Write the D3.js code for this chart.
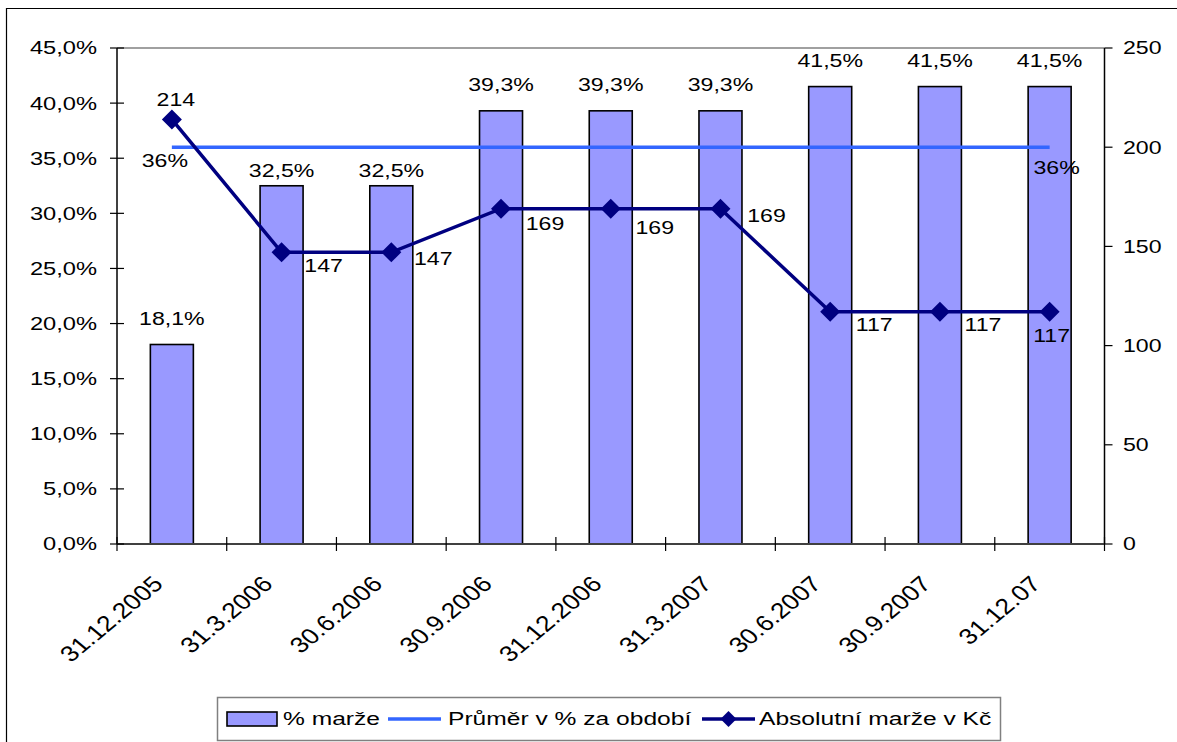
<!DOCTYPE html>
<html>
<head>
<meta charset="utf-8">
<script src="https://d3js.org/d3.v7.min.js"></script>
<style>
body{margin:0;background:#fff}
svg{display:block;font-family:'Liberation Sans',Arial,sans-serif;font-size:18.5px}
</style>
</head>
<body>
<div id="chart"></div>
<script>
// data
var categories = ['31.12.2005','31.3.2006','30.6.2006','30.9.2006','31.12.2006','31.3.2007','30.6.2007','30.9.2007','31.12.07'];
var margePct = [18.1, 32.5, 32.5, 39.3, 39.3, 39.3, 41.5, 41.5, 41.5];
var prumerPct = [36, 36, 36, 36, 36, 36, 36, 36, 36];
var absMarze = [214, 147, 147, 169, 169, 169, 117, 117, 117];
var leftTicks = [0, 5, 10, 15, 20, 25, 30, 35, 40, 45];
var rightTicks = [0, 50, 100, 150, 200, 250];
var legendNames = ['% marže', 'Průměr v % za období', 'Absolutní marže v Kč'];

// label nudges (Excel moved some of them around)
var barLabelDy = [-26, -15, -15, -26, -26, -26, -26, -26, -26];
var absLabelDx = [4, 42, 42, 44, 44, 46, 44, 43, 2];
var absLabelDy = [-20, 13, 6, 15, 19, 7, 13, 13, 24];

var W = 1177, H = 742, SX = 1.25;
var m = {left: 117, right: 1104.5, top: 48, bottom: 544};

var cz = d3.formatLocale({decimal: ',', thousands: ' ', grouping: [3], currency: ['', ' Kč']});
var fmt1 = cz.format('.1f');

var svg = d3.select('#chart').append('svg').attr('width', W).attr('height', H);

var x = d3.scaleBand().domain(categories).range([m.left, m.right]).padding(0);
var yL = d3.scaleLinear().domain([0, 45]).range([m.bottom, m.top]);
var yR = d3.scaleLinear().domain([0, 250]).range([m.bottom, m.top]);
var cx = function(i) { return x(categories[i]) + x.bandwidth() / 2; };

function txt(g, px, py, s, anchor, sx) {
  return g.append('text')
    .attr('transform', 'translate(' + px + ',' + py + ') scale(' + (sx || SX) + ',1)')
    .attr('text-anchor', anchor || 'middle')
    .attr('dy', '0.35em')
    .attr('fill', '#000')
    .text(s);
}

// outer frame
svg.append('path').attr('d', 'M6.5,' + H + 'V8.5H' + W).attr('fill', 'none').attr('stroke', '#000').attr('stroke-width', 1.2);

// plot top border
svg.append('line').attr('x1', m.left).attr('x2', m.right).attr('y1', m.top).attr('y2', m.top)
  .attr('stroke', '#808080').attr('stroke-width', 1.5);

// bars
svg.append('g').selectAll('rect').data(margePct).join('rect')
  .attr('x', function(d, i) { return cx(i) - 21.5; })
  .attr('width', 43)
  .attr('y', function(d) { return yL(d); })
  .attr('height', function(d) { return yL(0) - yL(d); })
  .attr('fill', '#9999ff').attr('stroke', '#000').attr('stroke-width', 1.6);

// axes
var ax = svg.append('g');
ax.append('line').attr('x1', m.left).attr('x2', m.left).attr('y1', m.top).attr('y2', m.bottom).attr('stroke', '#000').attr('stroke-width', 1.5);
ax.append('line').attr('x1', m.right).attr('x2', m.right).attr('y1', m.top).attr('y2', m.bottom).attr('stroke', '#000').attr('stroke-width', 1.5);
ax.append('line').attr('x1', m.left).attr('x2', m.right).attr('y1', m.bottom).attr('y2', m.bottom).attr('stroke', '#404040').attr('stroke-width', 2);

leftTicks.forEach(function(t) {
  ax.append('line').attr('x1', m.left - 7).attr('x2', m.left + 7).attr('y1', yL(t)).attr('y2', yL(t)).attr('stroke', '#000').attr('stroke-width', 1.2);
  txt(ax, 97, yL(t), fmt1(t) + '%', 'end', 1.28);
});
rightTicks.forEach(function(t) {
  ax.append('line').attr('x1', m.right).attr('x2', m.right + 8).attr('y1', yR(t)).attr('y2', yR(t)).attr('stroke', '#000').attr('stroke-width', 1.2);
  txt(ax, 1123, yR(t), t, 'start');
});
d3.range(categories.length + 1).forEach(function(i) {
  var px = m.left + i * x.bandwidth();
  ax.append('line').attr('x1', px).attr('x2', px).attr('y1', m.bottom - 7).attr('y2', m.bottom + 7).attr('stroke', '#000').attr('stroke-width', 1.2);
});
categories.forEach(function(c, i) {
  ax.append('text')
    .attr('transform', 'translate(' + (cx(i) - 14) + ',' + (m.bottom + 36) + ') scale(1.2,1) rotate(-45)')
    .attr('text-anchor', 'end').attr('dy', '0.35em')
    .style('font-size', '22px')
    .text(c);
});

// average line
var lineL = d3.line().x(function(d, i) { return cx(i); }).y(function(d) { return yL(d); });
svg.append('path').datum(prumerPct).attr('d', lineL).attr('fill', 'none').attr('stroke', '#3366ff').attr('stroke-width', 3.5);

// absolute line
var lineR = d3.line().x(function(d, i) { return cx(i); }).y(function(d) { return yR(d); });
svg.append('path').datum(absMarze).attr('d', lineR).attr('fill', 'none').attr('stroke', '#000080').attr('stroke-width', 3.5);
var diamond = 'M0,-10L10,0L0,10L-10,0Z';
svg.append('g').selectAll('path').data(absMarze).join('path')
  .attr('transform', function(d, i) { return 'translate(' + cx(i) + ',' + yR(d) + ')'; })
  .attr('d', diamond).attr('fill', '#000080');

// labels
var lab = svg.append('g');
margePct.forEach(function(d, i) { txt(lab, cx(i), yL(d) + barLabelDy[i], fmt1(d) + '%'); });
absMarze.forEach(function(d, i) { txt(lab, cx(i) + absLabelDx[i], yR(d) + absLabelDy[i], d); });
txt(lab, cx(0) - 7, yL(prumerPct[0]) + 13, prumerPct[0] + '%');
txt(lab, cx(8) + 7, yL(prumerPct[8]) + 20, prumerPct[8] + '%');

// legend
var lg = svg.append('g');
lg.append('rect').attr('x', 217.5).attr('y', 697.5).attr('width', 783).attr('height', 43)
  .attr('fill', '#fff').attr('stroke', '#808080').attr('stroke-width', 1.5);
var ly = 719;
lg.append('rect').attr('x', 227).attr('y', ly - 7).attr('width', 50).attr('height', 14)
  .attr('fill', '#9999ff').attr('stroke', '#000').attr('stroke-width', 1.6);
txt(lg, 283, ly, legendNames[0], 'start', 1.33);
lg.append('line').attr('x1', 388).attr('x2', 441).attr('y1', ly).attr('y2', ly).attr('stroke', '#3366ff').attr('stroke-width', 3.5);
txt(lg, 448, ly, legendNames[1], 'start', 1.33);
lg.append('line').attr('x1', 702).attr('x2', 755).attr('y1', ly).attr('y2', ly).attr('stroke', '#000080').attr('stroke-width', 3.5);
lg.append('path').attr('transform', 'translate(728.5,' + ly + ')').attr('d', 'M0,-8L8,0L0,8L-8,0Z').attr('fill', '#000080');
txt(lg, 759, ly, legendNames[2], 'start', 1.33);
</script>
</body>
</html>
